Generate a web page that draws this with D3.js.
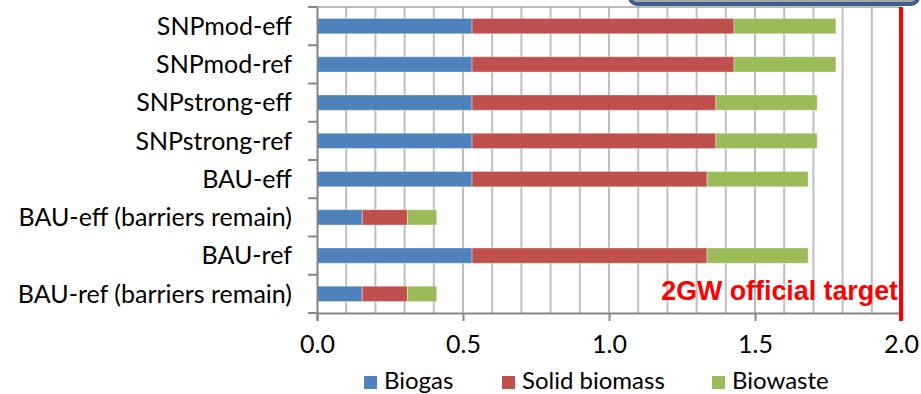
<!DOCTYPE html>
<html>
<head>
<meta charset="utf-8">
<script src="https://cdn.jsdelivr.net/npm/d3@7"></script>
<style>
  body { margin: 0; background: #fff; }
  svg { display: block; }
  text { font-family: Lato, 'Open Sans', sans-serif; fill: #000; }
</style>
</head>
<body>
<div id="chart"></div>
<script>
const categories = [
  'SNPmod-eff',
  'SNPmod-ref',
  'SNPstrong-eff',
  'SNPstrong-ref',
  'BAU-eff',
  'BAU-eff (barriers remain)',
  'BAU-ref',
  'BAU-ref (barriers remain)',
];
const biogas = [0.531, 0.531, 0.531, 0.531, 0.531, 0.155, 0.531, 0.155];
const solidBiomass = [0.897, 0.897, 0.835, 0.835, 0.805, 0.155, 0.805, 0.155];
const biowaste = [0.349, 0.349, 0.347, 0.347, 0.346, 0.1, 0.346, 0.1];
const seriesNames = ['Biogas', 'Solid biomass', 'Biowaste'];
const seriesColors = ['#4F81BD', '#C0504D', '#9BBB59'];
const xTicks = [0, 0.5, 1, 1.5, 2];
const target = 2;
const targetLabel = '2GW official target';

const width = 921;
const height = 394;
const margin = { top: 7, right: 20, bottom: 81, left: 317 };

const svg = d3.select('#chart').append('svg').attr('width', width).attr('height', height);

const rows = categories.map((c, i) => ({
  category: c,
  Biogas: biogas[i],
  'Solid biomass': solidBiomass[i],
  Biowaste: biowaste[i],
}));
const stacked = d3.stack().keys(seriesNames)(rows);

const x = d3.scaleLinear().domain([0, 2]).range([margin.left, 901]);
const y = d3
  .scaleBand()
  .domain(categories)
  .range([margin.top, height - margin.bottom])
  .paddingInner(0.6)
  .paddingOuter(0.3);

// corner of a shape that sits above the chart
svg
  .append('rect')
  .attr('x', 630)
  .attr('y', -20)
  .attr('width', 288)
  .attr('height', 24)
  .attr('rx', 7)
  .attr('fill', '#a6a6a6')
  .attr('stroke', '#3e5f8e')
  .attr('stroke-width', 4);

// vertical gridlines every 0.1
const gridVals = d3.range(1, 21).map((d) => d / 10);
svg
  .append('g')
  .selectAll('line')
  .data(gridVals)
  .join('line')
  .attr('x1', (d) => x(d))
  .attr('x2', (d) => x(d))
  .attr('y1', margin.top)
  .attr('y2', height - margin.bottom)
  .attr('stroke', '#bfbfbf')
  .attr('stroke-width', 2);

svg
  .append('line')
  .attr('x1', margin.left - 9)
  .attr('x2', x(2))
  .attr('y1', margin.top)
  .attr('y2', margin.top)
  .attr('stroke', '#a6a6a6')
  .attr('stroke-width', 1.5);

// bars
svg
  .append('g')
  .selectAll('g')
  .data(stacked)
  .join('g')
  .attr('fill', (d, i) => seriesColors[i])
  .selectAll('rect')
  .data((d) => d)
  .join('rect')
  .attr('x', (d) => x(d[0]))
  .attr('width', (d) => x(d[1]) - x(d[0]))
  .attr('y', (d) => y(d.data.category))
  .attr('height', y.bandwidth())
  .attr('stroke', 'rgba(255,255,255,0.35)')
  .attr('stroke-width', 1);

// category axis
const yAxis = svg
  .append('g')
  .attr('transform', `translate(${margin.left},0)`)
  .call(d3.axisLeft(y).tickSize(0).tickPadding(25));
yAxis.select('.domain').attr('stroke', '#868686').attr('stroke-width', 2);
yAxis.selectAll('text').style('font-size', '25px').attr('dy', '0.35em');

const bounds = d3.range(categories.length + 1).map((i) => margin.top + i * y.step());
svg
  .append('g')
  .selectAll('line')
  .data(bounds)
  .join('line')
  .attr('x1', margin.left - 9)
  .attr('x2', margin.left)
  .attr('y1', (d) => d)
  .attr('y2', (d) => d)
  .attr('stroke', '#868686')
  .attr('stroke-width', 2);

// value axis
const xAxis = svg
  .append('g')
  .attr('transform', `translate(0,${height - margin.bottom})`)
  .call(d3.axisBottom(x).tickValues(xTicks).tickSize(8).tickPadding(14).tickFormat(d3.format('.1f')));
xAxis.select('.domain').attr('stroke', '#868686').attr('stroke-width', 2);
xAxis.selectAll('.tick line').attr('stroke', '#868686').attr('stroke-width', 2);
xAxis.selectAll('text').style('font-size', '25px');

// target line
svg
  .append('line')
  .attr('x1', x(target))
  .attr('x2', x(target))
  .attr('y1', margin.top)
  .attr('y2', height - margin.bottom + 8)
  .attr('stroke', '#ff0000')
  .attr('stroke-width', 4);

svg
  .append('text')
  .attr('x', x(target) - 3)
  .attr('y', 300)
  .attr('text-anchor', 'end')
  .style('font-family', "'Liberation Sans', Arial, sans-serif")
  .style('font-weight', 'bold')
  .style('font-size', '26.8px')
  .style('fill', '#ff0000')
  .text(targetLabel);

// legend
const legendX = [364, 502, 712];
const legend = svg
  .append('g')
  .selectAll('g')
  .data(seriesNames)
  .join('g')
  .attr('transform', (d, i) => `translate(${legendX[i]},376)`);
legend
  .append('rect')
  .attr('width', 13)
  .attr('height', 13)
  .attr('fill', (d, i) => seriesColors[i]);
legend
  .append('text')
  .attr('x', 20)
  .attr('y', 13)
  .style('font-size', '24px')
  .text((d) => d);
</script>
</body>
</html>
